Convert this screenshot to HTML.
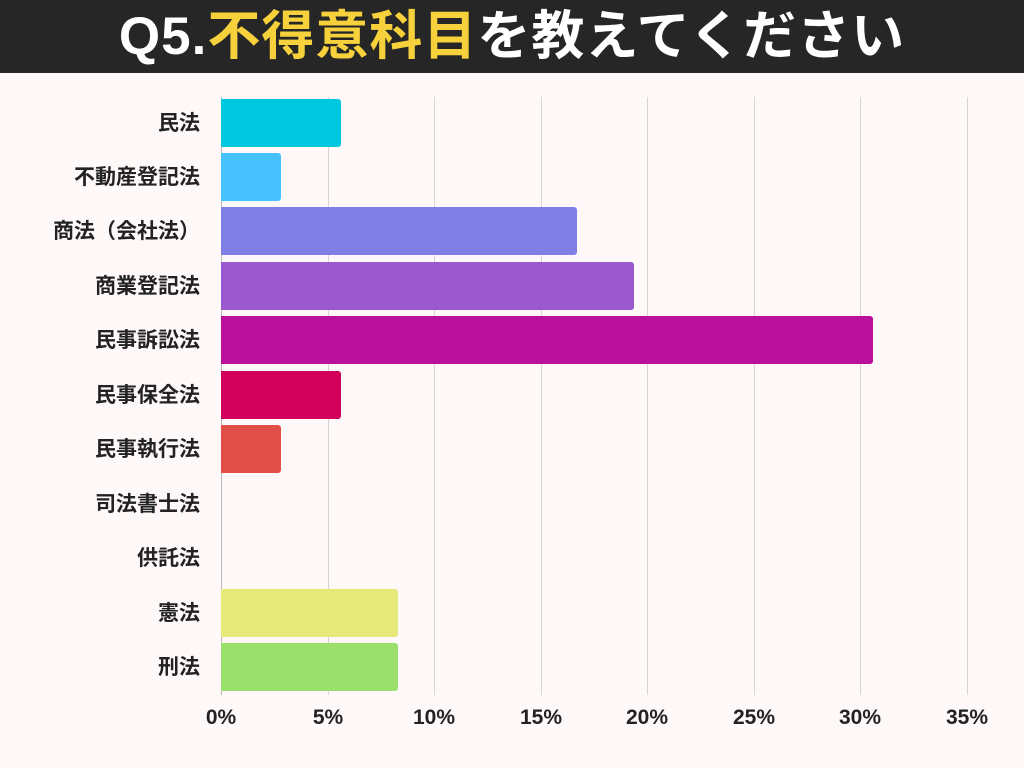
<!DOCTYPE html>
<html><head><meta charset="utf-8"><style>
body{margin:0;width:1024px;height:768px;background:#fff8f8;position:relative;overflow:hidden;font-family:"Liberation Sans","Noto Sans CJK JP",sans-serif;}
.hdr{position:absolute;left:0;top:0;width:1024px;height:73px;background:#262626;color:#fff;font-weight:bold;font-size:53px;text-align:center;line-height:73px;letter-spacing:1px;}
.hdr span{color:#f7d13c}
.grid{position:absolute;top:97px;width:1px;height:598px;background:#d8d4d4}
.bar{position:absolute;left:221px;height:48px;border-radius:0 3px 3px 0}
.lab{position:absolute;right:824px;font-size:21px;font-weight:bold;color:#222;line-height:24px;white-space:nowrap;text-align:right}
.tick{position:absolute;top:706px;font-size:21px;font-weight:bold;color:#222;width:80px;margin-left:-40px;text-align:center}
</style></head><body>
<div class="hdr">Q5.<span>不得意科目</span>を教えてください</div>
<div class="grid" style="left:328px"></div><div class="grid" style="left:434px"></div><div class="grid" style="left:541px"></div><div class="grid" style="left:647px"></div><div class="grid" style="left:754px"></div><div class="grid" style="left:860px"></div><div class="grid" style="left:967px"></div>
<div class="grid" style="left:221px;background:#bbb"></div>

<div class="bar" style="top:99px;width:120px;background:#00c8de"></div>
<div class="bar" style="top:153px;width:60px;background:#47c2ff"></div>
<div class="bar" style="top:207px;width:356px;background:#7f7fe6"></div>
<div class="bar" style="top:262px;width:413px;background:#9b59cf"></div>
<div class="bar" style="top:316px;width:652px;background:#bb0f9e"></div>
<div class="bar" style="top:371px;width:120px;background:#d1005b"></div>
<div class="bar" style="top:425px;width:60px;background:#e05048"></div>
<div class="bar" style="top:589px;width:177px;background:#e6e87a"></div>
<div class="bar" style="top:643px;width:177px;background:#9be06c"></div>

<div class="lab" style="top:112px">民法</div>
<div class="lab" style="top:166px">不動産登記法</div>
<div class="lab" style="top:220px">商法（会社法）</div>
<div class="lab" style="top:275px">商業登記法</div>
<div class="lab" style="top:329px">民事訴訟法</div>
<div class="lab" style="top:384px">民事保全法</div>
<div class="lab" style="top:438px">民事執行法</div>
<div class="lab" style="top:493px">司法書士法</div>
<div class="lab" style="top:547px">供託法</div>
<div class="lab" style="top:602px">憲法</div>
<div class="lab" style="top:656px">刑法</div>

<div class="tick" style="left:221px">0%</div>
<div class="tick" style="left:328px">5%</div>
<div class="tick" style="left:434px">10%</div>
<div class="tick" style="left:541px">15%</div>
<div class="tick" style="left:647px">20%</div>
<div class="tick" style="left:754px">25%</div>
<div class="tick" style="left:860px">30%</div>
<div class="tick" style="left:967px">35%</div>
</body></html>
